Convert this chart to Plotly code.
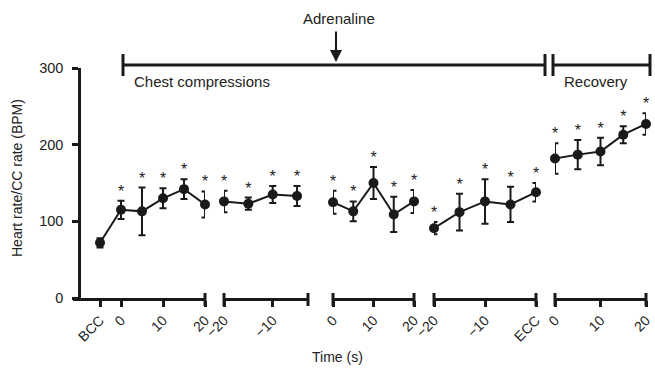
import plotly.graph_objects as go

# ---------------- data ----------------
seg1_labels = ["BCC", 0, 5, 10, 15, 20]
seg1_mean = [72, 115, 113, 130, 142, 122]
seg1_err = [6, 12, 31, 13, 13, 17]
seg1_sig = [False, True, True, True, True, True]

seg2_labels = [-20, -15, -10, -5]
seg2_mean = [126, 123, 135, 133]
seg2_err = [14, 8, 11, 13]
seg2_sig = [True, True, True, True]

seg3_labels = [0, 5, 10, 15, 20]
seg3_mean = [125, 113, 150, 109, 126]
seg3_err = [15, 13, 21, 23, 15]
seg3_sig = [True, True, True, True, True]

seg4_labels = [-20, -15, -10, -5, "ECC"]
seg4_mean = [91, 112, 126, 122, 138]
seg4_err = [8, 24, 29, 23, 12]
seg4_sig = [True, True, True, True, True]

seg5_labels = [0, 5, 10, 15, 20]
seg5_mean = [182, 187, 191, 213, 227]
seg5_err = [20, 19, 18, 11, 14]
seg5_sig = [True, True, True, True, True]

seg1_ticks = ["BCC", 0, 10, 20]
seg2_ticks = [-20, -10]
seg3_ticks = [0, 10, 20]
seg4_ticks = [-20, -10, "ECC"]
seg5_ticks = [0, 10, 20]

y_ticks = [0, 100, 200, 300]

# ---------------- layout helpers ----------------
W, H = 655, 371
T, B = 68, 73           # top / bottom margins in px
PLOT_H = H - T - B
FONT = "Liberation Sans, Arial, Helvetica, sans-serif"
INK = "#1a1a1a"
TXT = "#222222"

named_pos = {"BCC": -5, "ECC": 0}


def pos(v):
    return named_pos.get(v, v) if isinstance(v, str) else v


def lab(v):
    if isinstance(v, str):
        return v
    return ("\u2212" + str(-v)) if v < 0 else str(v)


def px(x):
    return x / W


def py(y):
    return (H - B - y) / PLOT_H


segments = [
    dict(labels=seg1_labels, mean=seg1_mean, err=seg1_err, sig=seg1_sig, ticks=seg1_ticks,
         dom=(73, 205), rng=(-11.43, 20)),
    dict(labels=seg2_labels, mean=seg2_mean, err=seg2_err, sig=seg2_sig, ticks=seg2_ticks,
         dom=(224, 308), rng=(-20, -2.75)),
    dict(labels=seg3_labels, mean=seg3_mean, err=seg3_err, sig=seg3_sig, ticks=seg3_ticks,
         dom=(333, 414), rng=(0, 20)),
    dict(labels=seg4_labels, mean=seg4_mean, err=seg4_err, sig=seg4_sig, ticks=seg4_ticks,
         dom=(434, 536), rng=(-20, 0)),
    dict(labels=seg5_labels, mean=seg5_mean, err=seg5_err, sig=seg5_sig, ticks=seg5_ticks,
         dom=(555, 646), rng=(0, 20)),
]

fig = go.Figure()
layout = dict(
    width=W, height=H,
    margin=dict(l=0, r=0, t=T, b=B, pad=0, autoexpand=False),
    paper_bgcolor="white", plot_bgcolor="white",
    showlegend=False,
    font=dict(family=FONT, size=14, color=TXT),
)
shapes = []

for i, s in enumerate(segments, start=1):
    xa = "x" if i == 1 else f"x{i}"
    xs = [pos(v) for v in s["labels"]]
    fig.add_trace(go.Scatter(
        x=xs, y=s["mean"], xaxis=xa, yaxis="y",
        mode="lines+markers",
        line=dict(color=INK, width=2),
        marker=dict(color=INK, size=10, line=dict(width=0)),
        error_y=dict(type="data", array=s["err"], visible=True,
                     color=INK, thickness=2, width=3.5),
        cliponaxis=False,
    ))
    sx = [x for x, g in zip(xs, s["sig"]) if g]
    sy = [m + e for m, e, g in zip(s["mean"], s["err"], s["sig"]) if g]
    fig.add_trace(go.Scatter(
        x=sx, y=sy, xaxis=xa, yaxis="y",
        mode="text", text=["*"] * len(sx), textposition="top center",
        textfont=dict(family=FONT, size=16, color=TXT),
        cliponaxis=False,
    ))
    key = "xaxis" if i == 1 else f"xaxis{i}"
    layout[key] = dict(
        domain=[px(s["dom"][0]), px(s["dom"][1])],
        range=list(s["rng"]),
        anchor="y", automargin=False,
        showline=True, linecolor=INK, linewidth=2.5,
        ticks="outside", ticklen=6, tickwidth=2.5, tickcolor=INK,
        tickvals=[pos(v) for v in s["ticks"]],
        ticktext=[lab(v) for v in s["ticks"]],
        tickangle=-45,
        tickfont=dict(family=FONT, size=14, color=TXT),
        showgrid=False, zeroline=False, fixedrange=True,
    )
    # end caps of each broken-axis segment
    ends = [1] if i == 1 else [0, 1]
    for e in ends:
        shapes.append(dict(type="line", xref=f"{xa} domain", yref="paper",
                           x0=e, x1=e, y0=py(293), y1=py(306),
                           line=dict(color=INK, width=3)))

layout["yaxis"] = dict(
    domain=[0, 1], range=[0, 300], anchor="free", position=px(79),
    automargin=False,
    showline=True, linecolor=INK, linewidth=2.5,
    ticks="outside", ticklen=6, tickwidth=2.5, tickcolor=INK,
    ticklabelstandoff=6,
    tickvals=y_ticks, ticktext=[str(v) for v in y_ticks],
    tickfont=dict(family=FONT, size=14.5, color=TXT),
    showgrid=False, zeroline=False, fixedrange=True,
)

# top brackets: chest compressions and recovery
bracket = dict(color=INK, width=3)
shapes += [
    dict(type="line", xref="paper", yref="paper", x0=px(123), x1=px(545), y0=py(65), y1=py(65), line=bracket),
    dict(type="line", xref="paper", yref="paper", x0=px(123), x1=px(123), y0=py(54), y1=py(76), line=bracket),
    dict(type="line", xref="paper", yref="paper", x0=px(545), x1=px(545), y0=py(54), y1=py(76), line=bracket),
    dict(type="line", xref="paper", yref="paper", x0=px(553), x1=px(650), y0=py(65), y1=py(65), line=bracket),
    dict(type="line", xref="paper", yref="paper", x0=px(553), x1=px(553), y0=py(54), y1=py(76), line=bracket),
    dict(type="line", xref="paper", yref="paper", x0=px(650), x1=px(650), y0=py(54), y1=py(76), line=bracket),
]
layout["shapes"] = shapes

annotations = [
    dict(text="Adrenaline", x=px(339), y=py(19), xanchor="center", yanchor="middle",
         font=dict(family=FONT, size=15, color=TXT)),
    dict(text="", x=px(336), y=py(62), showarrow=True, ax=0, ay=-32,
         arrowhead=2, arrowsize=1.2, arrowwidth=2, arrowcolor=INK),
    dict(text="Chest compressions", x=px(132), y=py(81), xanchor="left", yanchor="middle",
         font=dict(family=FONT, size=15, color=TXT)),
    dict(text="Recovery", x=px(562), y=py(81), xanchor="left", yanchor="middle",
         font=dict(family=FONT, size=15, color=TXT)),
    dict(text="Time (s)", x=px(338), y=py(357), xanchor="center", yanchor="middle",
         font=dict(family=FONT, size=14, color=TXT)),
    dict(text="Heart rate/CC rate (BPM)", x=px(17), y=py(178), xanchor="center", yanchor="middle",
         textangle=-90, font=dict(family=FONT, size=14, color=TXT)),
]
for a in annotations:
    a.setdefault("showarrow", False)
    a["xref"] = "paper"
    a["yref"] = "paper"
layout["annotations"] = annotations

fig.update_layout(**layout)
fig.write_html(
    "out.html",
    config={"displayModeBar": False},
    post_script="document.body.style.margin='0px';document.body.style.padding='0px';",
)
